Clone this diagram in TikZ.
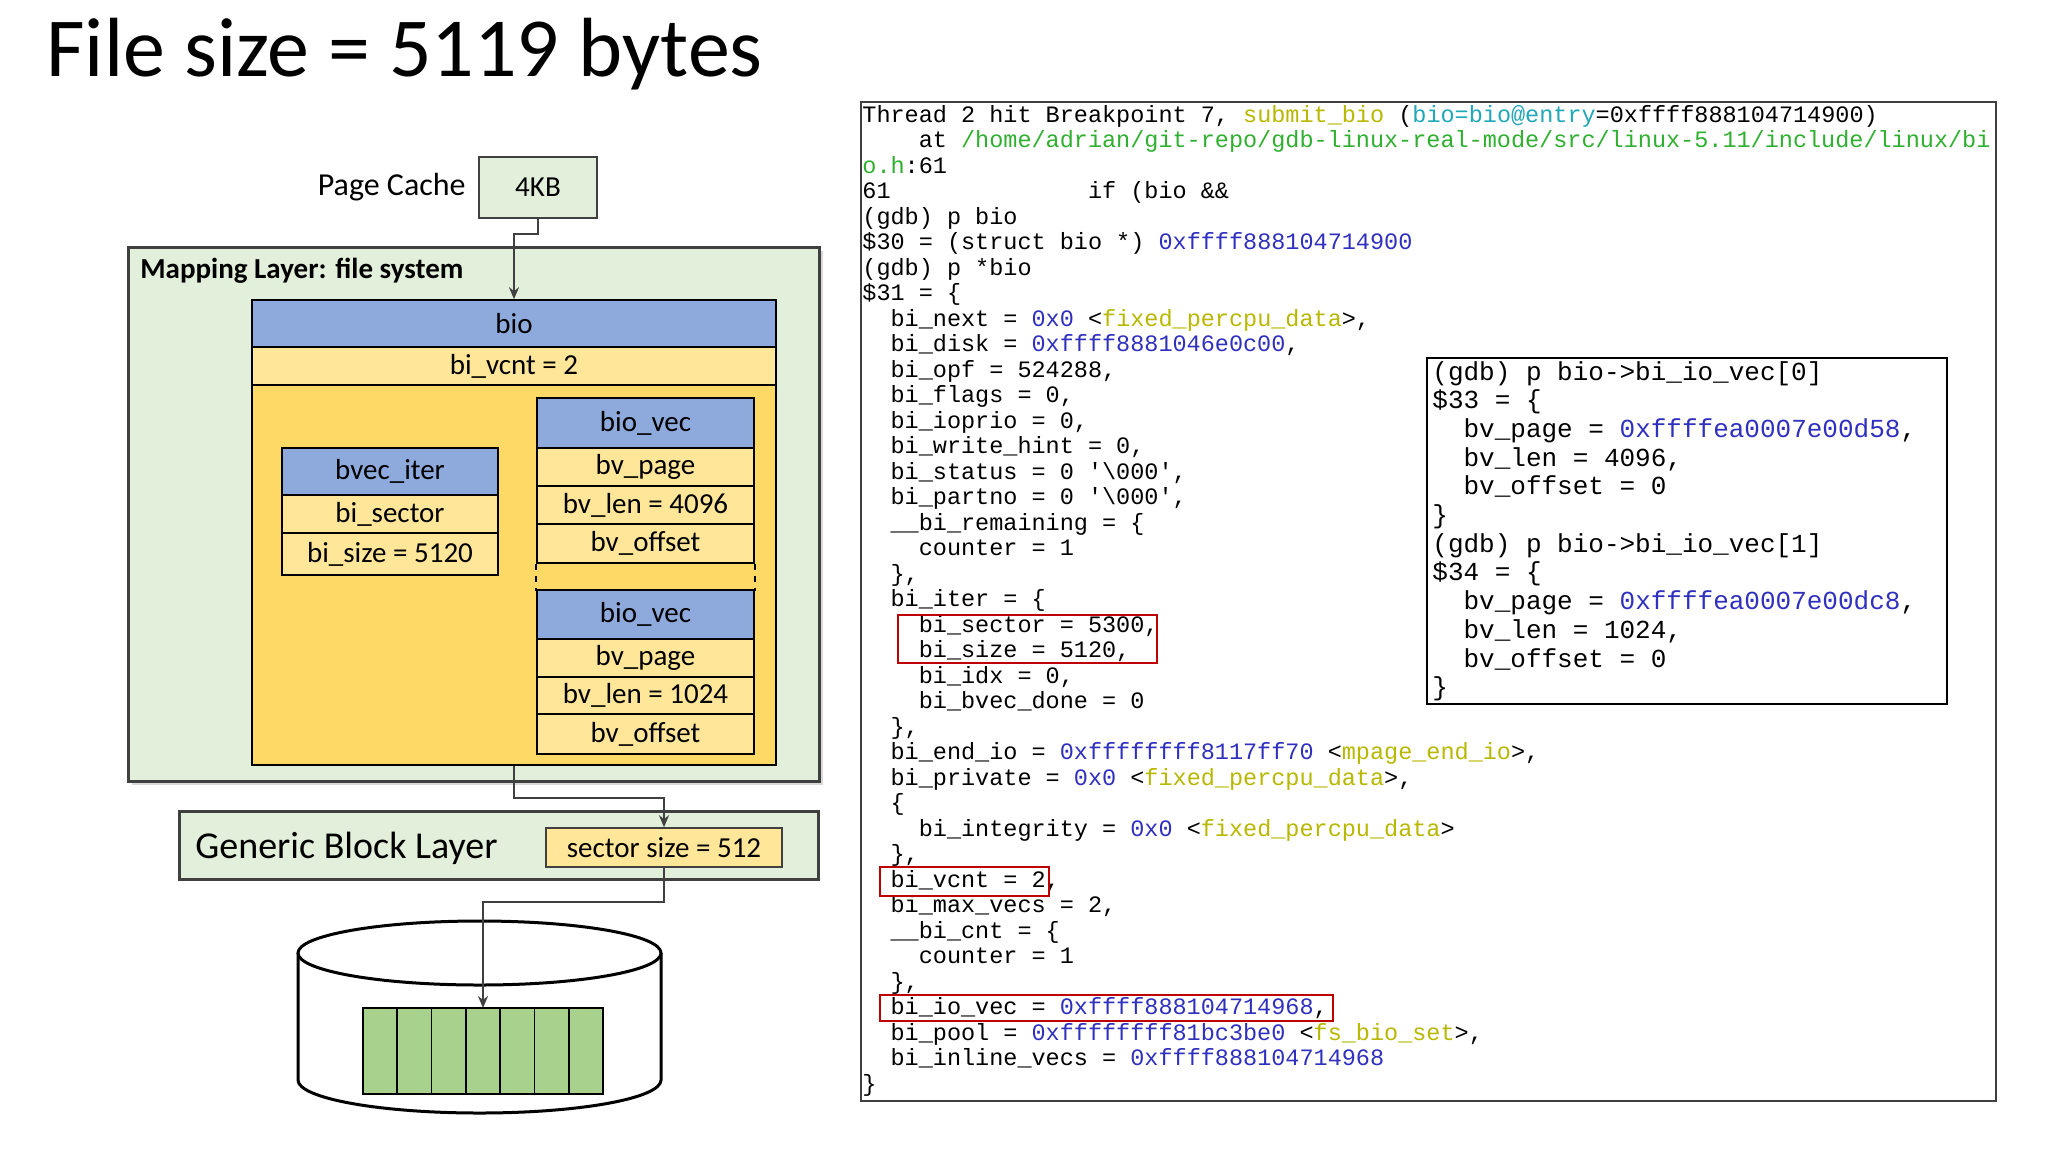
\documentclass[tikz,border=0pt]{standalone}
\usepackage{fontspec}
\setmainfont{Carlito}
\newfontfamily\codefont{Liberation Mono}
\usetikzlibrary{arrows.meta,shadows}
\definecolor{lgreen}{HTML}{E2EFDA}
\definecolor{hblue}{HTML}{8EA9DB}
\definecolor{ylight}{HTML}{FFE699}
\definecolor{ydark}{HTML}{FFD966}
\definecolor{blk}{HTML}{A9D18E}
\definecolor{dgray}{HTML}{404040}
\definecolor{olv}{HTML}{B8B800}
\definecolor{cyn}{HTML}{20A8B8}
\definecolor{grn}{HTML}{30B030}
\definecolor{hexc}{HTML}{3030C0}
\newcommand\ci[1]{\hspace*{#1\fontcharwd\font`0}}
\newcommand\hx[1]{\textcolor{hexc}{#1}}
\newcommand\ol[1]{\textcolor{olv}{#1}}
\begin{document}
\begin{tikzpicture}[x=0.5pt,y=-0.5pt,
  cell/.style={draw=black,line width=0.8pt,inner sep=0pt,font=\fontsize{14.5}{15}\selectfont},
  code/.style={anchor=base west,inner sep=0pt,font=\codefont\fontsize{11.75}{12}\selectfont},
  code2/.style={anchor=base west,inner sep=0pt,font=\codefont\fontsize{13}{14}\selectfont},
  arr/.style={draw=dgray,line width=1pt,-{Stealth[length=6pt,width=5pt]}},
  redbox/.style={draw=red!75!black,line width=1pt}]
\useasboundingbox (0,0) rectangle (2048,1152);
\fill[white] (0,0) rectangle (2048,1152);
% title
\node[anchor=base west,inner sep=0pt,font=\fontsize{42}{46}\selectfont] (title) at (46,76) {File size = 5119 bytes};
% page cache
\node[anchor=east,inner sep=0pt,font=\fontsize{16}{18}\selectfont] (pclabel) at (466,187) {Page Cache};
\node[draw=dgray,fill=lgreen,line width=1pt,minimum width=59pt,minimum height=30.5pt,inner sep=0pt,font=\fontsize{14.5}{15}\selectfont] (kb) at (538,187.5) {4KB};
% mapping layer
\node[draw=dgray,fill=lgreen,line width=1.5pt,minimum width=345.5pt,minimum height=267pt,inner sep=0pt,drop shadow={shadow xshift=2pt,shadow yshift=-2pt,fill=gray!60}] (map) at (473.5,514) {};
\node[anchor=west,inner sep=0pt,font=\bfseries\fontsize{14.5}{15}\selectfont] (maptitle) at (140,271) {Mapping Layer: file system};
% bio
\node[cell,fill=hblue,minimum width=262pt,minimum height=23.5pt] (bio) at (514,323.5) {bio};
\node[cell,fill=ylight,minimum width=262pt,minimum height=19pt] (vcnt) at (514,366) {bi\_vcnt = 2};
\node[cell,fill=ydark,minimum width=262pt,minimum height=190pt] (body) at (514,575) {};
% bvec_iter
\node[cell,fill=hblue,minimum width=108pt,minimum height=23.5pt] (it) at (390,471.5) {bvec\_iter};
\node[cell,fill=ylight,minimum width=108pt,minimum height=19pt] (sec) at (390,514) {bi\_sector};
\node[cell,fill=ylight,minimum width=108pt,minimum height=21pt] (sz) at (390,554) {bi\_size = 5120};
% bio_vec 1
\node[cell,fill=hblue,minimum width=108.5pt,minimum height=25pt] (v1) at (645.5,423) {bio\_vec};
\node[cell,fill=ylight,minimum width=108.5pt,minimum height=19pt] (v1p) at (645.5,467) {bv\_page};
\node[cell,fill=ylight,minimum width=108.5pt,minimum height=19pt] (v1l) at (645.5,505) {bv\_len = 4096};
\node[cell,fill=ylight,minimum width=108.5pt,minimum height=19.5pt] (v1o) at (645.5,543.5) {bv\_offset};
\draw[dashed,line width=0.8pt] (v1o.south west) -- ++(0,27);
\draw[dashed,line width=0.8pt] (v1o.south east) -- ++(0,27);
% bio_vec 2
\node[cell,fill=hblue,minimum width=108.5pt,minimum height=24.5pt] (v2) at (645.5,614.5) {bio\_vec};
\node[cell,fill=ylight,minimum width=108.5pt,minimum height=19pt] (v2p) at (645.5,658) {bv\_page};
\node[cell,fill=ylight,minimum width=108.5pt,minimum height=18.5pt] (v2l) at (645.5,695.5) {bv\_len = 1024};
\node[cell,fill=ylight,minimum width=108.5pt,minimum height=20pt] (v2o) at (645.5,734) {bv\_offset};
% generic block layer
\node[draw=dgray,fill=lgreen,line width=1.5pt,minimum width=319.5pt,minimum height=34pt,inner sep=0pt] (gbl) at (498.5,845) {};
\node[anchor=west,inner sep=0pt,font=\fontsize{19}{20}\selectfont] (gbltext) at (195,848) {Generic Block Layer};
\node[cell,draw=dgray,fill=ylight,minimum width=118pt,minimum height=19.5pt] (ss) at (664,847.5) {sector size = 512};
% disk
\draw[line width=1.5pt,fill=white] (298,953) -- (298,1080) arc[start angle=180,end angle=360,x radius=181.5,y radius=-33] -- (661,953);
\draw[line width=1.5pt,fill=white] (479.5,953) ellipse[x radius=181.5,y radius=32];
\foreach \i in {0,...,6}{\draw[fill=blk,line width=0.8pt] ({363+\i*240/7},1008) rectangle ({363+(\i+1)*240/7},1094);}
\coordinate (blocks) at (483,1008);
% arrows
\draw[arr] (kb.south) -- ++(0,15) -| (bio.north);
\draw[arr] (body.south) -- ++(0,32) -| (ss.north);
\draw[arr] (ss.south) -- ++(0,34) -| (blocks);
% code box
\draw[draw=dgray,line width=1pt] (861,102) rectangle (1996,1101);
\node[code] (c1) at (862,122) {Thread 2 hit Breakpoint 7, \ol{submit\_bio} (\textcolor{cyn}{bio=bio@entry}=0xffff888104714900)};
\node[code] (c2) at (862,147.5) {\ci{4}at \textcolor{grn}{/home/adrian/git-repo/gdb-linux-real-mode/src/linux-5.11/include/linux/bi}};
\node[code] (c3) at (862,173) {\textcolor{grn}{o.h}:61};
\node[code] (c4) at (862,198.5) {61\ci{14}if (bio \&\&};
\node[code] (c5) at (862,224) {(gdb) p bio};
\node[code] (c6) at (862,249.5) {\$30 = (struct bio *) \hx{0xffff888104714900}};
\node[code] (c7) at (862,275) {(gdb) p *bio};
\node[code] (c8) at (862,300.5) {\$31 = \{};
\node[code] (c9) at (862,326) {\ci{2}bi\_next = \hx{0x0} <\ol{fixed\_percpu\_data}>,};
\node[code] (c10) at (862,351.5) {\ci{2}bi\_disk = \hx{0xffff8881046e0c00},};
\node[code] (c11) at (862,377) {\ci{2}bi\_opf = 524288,};
\node[code] (c12) at (862,402.5) {\ci{2}bi\_flags = 0,};
\node[code] (c13) at (862,428) {\ci{2}bi\_ioprio = 0,};
\node[code] (c14) at (862,453.5) {\ci{2}bi\_write\_hint = 0,};
\node[code] (c15) at (862,479) {\ci{2}bi\_status = 0 '\textbackslash000',};
\node[code] (c16) at (862,504.5) {\ci{2}bi\_partno = 0 '\textbackslash000',};
\node[code] (c17) at (862,530) {\ci{2}\_\_bi\_remaining = \{};
\node[code] (c18) at (862,555.5) {\ci{4}counter = 1};
\node[code] (c19) at (862,581) {\ci{2}\},};
\node[code] (c20) at (862,606.5) {\ci{2}bi\_iter = \{};
\node[code] (c21) at (862,632) {\ci{4}bi\_sector = 5300,};
\node[code] (c22) at (862,657.5) {\ci{4}bi\_size = 5120,};
\node[code] (c23) at (862,683) {\ci{4}bi\_idx = 0,};
\node[code] (c24) at (862,708.5) {\ci{4}bi\_bvec\_done = 0};
\node[code] (c25) at (862,734) {\ci{2}\},};
\node[code] (c26) at (862,759.5) {\ci{2}bi\_end\_io = \hx{0xffffffff8117ff70} <\ol{mpage\_end\_io}>,};
\node[code] (c27) at (862,785) {\ci{2}bi\_private = \hx{0x0} <\ol{fixed\_percpu\_data}>,};
\node[code] (c28) at (862,810.5) {\ci{2}\{};
\node[code] (c29) at (862,836) {\ci{4}bi\_integrity = \hx{0x0} <\ol{fixed\_percpu\_data}>};
\node[code] (c30) at (862,861.5) {\ci{2}\},};
\node[code] (c31) at (862,887) {\ci{2}bi\_vcnt = 2,};
\node[code] (c32) at (862,912.5) {\ci{2}bi\_max\_vecs = 2,};
\node[code] (c33) at (862,938) {\ci{2}\_\_bi\_cnt = \{};
\node[code] (c34) at (862,963.5) {\ci{4}counter = 1};
\node[code] (c35) at (862,989) {\ci{2}\},};
\node[code] (c36) at (862,1014.5) {\ci{2}bi\_io\_vec = \hx{0xffff888104714968},};
\node[code] (c37) at (862,1040) {\ci{2}bi\_pool = \hx{0xffffffff81bc3be0} <\ol{fs\_bio\_set}>,};
\node[code] (c38) at (862,1065.5) {\ci{2}bi\_inline\_vecs = \hx{0xffff888104714968}};
\node[code] (c39) at (862,1091) {\}};
\draw[redbox] (898,615) rectangle (1157,663);
\draw[redbox] (880,867) rectangle (1049,896);
\draw[redbox] (880,995) rectangle (1333,1021);
% second box
\draw[draw=black,line width=1pt] (1427,358) rectangle (1947,704);
\node[code2] (d1) at (1432,380) {(gdb) p bio->bi\_io\_vec[0]};
\node[code2] (d2) at (1432,408.7) {\$33 = \{};
\node[code2] (d3) at (1432,437.4) {\ci{2}bv\_page = \hx{0xffffea0007e00d58},};
\node[code2] (d4) at (1432,466.1) {\ci{2}bv\_len = 4096,};
\node[code2] (d5) at (1432,494.8) {\ci{2}bv\_offset = 0};
\node[code2] (d6) at (1432,523.5) {\}};
\node[code2] (d7) at (1432,552.2) {(gdb) p bio->bi\_io\_vec[1]};
\node[code2] (d8) at (1432,580.9) {\$34 = \{};
\node[code2] (d9) at (1432,609.6) {\ci{2}bv\_page = \hx{0xffffea0007e00dc8},};
\node[code2] (d10) at (1432,638.3) {\ci{2}bv\_len = 1024,};
\node[code2] (d11) at (1432,667) {\ci{2}bv\_offset = 0};
\node[code2] (d12) at (1432,695.7) {\}};
\end{tikzpicture}
\end{document}
